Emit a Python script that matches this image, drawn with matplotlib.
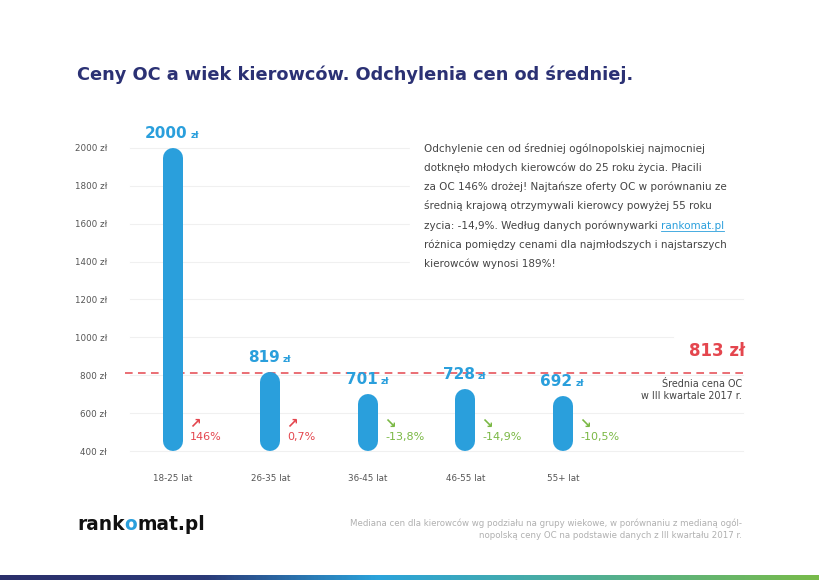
import matplotlib.pyplot as plt
import numpy as np
from matplotlib.lines import Line2D
from matplotlib.patches import Rectangle
from matplotlib.colors import LinearSegmentedColormap

# dane
grupy = ["18-25 lat", "26-35 lat", "36-45 lat", "46-55 lat", "55+ lat"]
ceny = [2000, 819, 701, 728, 692]
odchylenia = ["146%", "0,7%", "-13,8%", "-14,9%", "-10,5%"]
kierunek = ["up", "up", "down", "down", "down"]
srednia = 813
yticks = [400, 600, 800, 1000, 1200, 1400, 1600, 1800, 2000]

NIEBIESKI = "#2a9fdc"
CZERWONY = "#e4464e"
ZIELONY = "#7ab844"
GRANAT = "#2b3174"
SZARY = "#555555"

plt.rcParams['font.family'] = ['DejaVu Sans']

fig = plt.figure(figsize=(8.2, 5.8), dpi=100)
ax = fig.add_axes([125 / 820, 110 / 580, 620 / 820, 360 / 580])
ax.set_xlim(-0.492, 5.867)
ax.set_ylim(300, 2200)
for s in ax.spines.values():
    s.set_visible(False)

# siatka (linia 1000 krotsza, zeby nie wchodzila na "813 zl")
for t in yticks:
    koniec = 673 if t == 1000 else 743
    ax.plot([-0.44, (koniec - 173) / 97.5], [t, t], color="#f0f0f0", lw=0.8, zorder=0)

ax.set_yticks(yticks)
ax.set_yticklabels([f"{t} zł" for t in yticks], fontsize=6.3, color=SZARY)
ax.tick_params(axis='y', length=0, pad=13)
x = np.arange(len(grupy))
ax.set_xticks(x)
ax.set_xticklabels(grupy, fontsize=6.3, color=SZARY)
ax.tick_params(axis='x', length=0, pad=3)

# zaokraglone slupki
r = 10 / (360 / 1900)  # promien w jednostkach danych
for i, v in enumerate(ceny):
    ax.plot([i, i], [400 + r, v - r], color=NIEBIESKI, lw=14.4,
            solid_capstyle='round', zorder=3)
    nd = len(str(v))
    w = nd * 10.3 + 3 + 9
    ax.annotate(str(v), (i, v), xytext=(w / 2 - 12, 10), textcoords='offset pixels',
                ha='right', va='baseline', fontsize=11, fontweight='bold', color=NIEBIESKI)
    ax.annotate("zł", (i, v), xytext=(w / 2 - 9, 10), textcoords='offset pixels',
                ha='left', va='baseline', fontsize=6.5, fontweight='bold', color=NIEBIESKI)
    kol = CZERWONY if kierunek[i] == "up" else ZIELONY
    strz = "↗" if kierunek[i] == "up" else "↘"
    ax.annotate(strz, (i, 542), xytext=(16, 0), textcoords='offset pixels',
                ha='left', va='center', fontsize=10, fontweight='bold', color=kol)
    ax.annotate(odchylenia[i], (i, 474), xytext=(17, 0), textcoords='offset pixels',
                ha='left', va='center', fontsize=8, color=kol)

# srednia
ax.axhline(srednia, color=CZERWONY, lw=1.1, ls=(0, (5, 3.5)), zorder=2)
fig.text(745 / 820, 1 - 351 / 580, "813 zł", ha='right', va='center',
         fontsize=12, fontweight='bold', color=CZERWONY)
fig.text(742 / 820, 1 - 390 / 580, "Średnia cena OC\nw III kwartale 2017 r.", ha='right',
         va='center', fontsize=6.9, color="#444444", linespacing=1.2)

# tytul
fig.text(77 / 820, 1 - 75 / 580, "Ceny OC a wiek kierowców. Odchylenia cen od średniej.",
         ha='left', va='center', fontsize=12.8, fontweight='bold', color=GRANAT)

# akapit
fig.patches.append(Rectangle((410 / 820, 1 - 280 / 580), 340 / 820, 150 / 580,
                             transform=fig.transFigure, color="white", zorder=1))
linie = [
    "Odchylenie cen od średniej ogólnopolskiej najmocniej",
    "dotknęło młodych kierowców do 25 roku życia. Płacili",
    "za OC 146% drożej! Najtańsze oferty OC w porównaniu ze",
    "średnią krajową otrzymywali kierowcy powyżej 55 roku",
    "zycia: -14,9%. Według danych porównywarki ",
    "różnica pomiędzy cenami dla najmłodszych i najstarszych",
    "kierowców wynosi 189%!",
]
ys = [148, 168, 187, 206, 226, 245, 264]
teksty = []
for tekst, yy in zip(linie, ys):
    teksty.append(fig.text(424 / 820, 1 - yy / 580, tekst, ha='left', va='center',
                           fontsize=7.5, color="#444444", zorder=2))
link = fig.text(0, 0, "rankomat.pl", fontsize=7.5, color=NIEBIESKI, zorder=2)

# logo w stopce
logo1 = fig.text(77 / 820, 1 - 525 / 580, "rank", ha='left', va='center',
                 fontsize=13.4, fontweight='bold', color="#111111")
logo2 = fig.text(0, 0, "o", fontsize=13.4, fontweight='bold', color=NIEBIESKI)
logo3 = fig.text(0, 0, "mat.pl", fontsize=13.4, fontweight='bold', color="#111111")

fig.text(742 / 820, 1 - 529 / 580,
         "Mediana cen dla kierowców wg podziału na grupy wiekowe, w porównaniu z medianą ogól-\n"
         "nopolską ceny OC na podstawie danych z III kwartału 2017 r.",
         ha='right', va='center', fontsize=6.2, color="#b0b0b0", linespacing=1.4)

# pozycjonowanie tekstow jeden po drugim
fig.canvas.draw()
rend = fig.canvas.get_renderer()
inv = fig.transFigure.inverted()


def obok(prev, nxt):
    bb = prev.get_window_extent(rend)
    x0, _ = inv.transform((bb.x1, 0))
    nxt.set_position((x0, prev.get_position()[1]))
    nxt.set_va(prev.get_va())
    nxt.set_ha('left')


obok(teksty[4], link)
obok(logo1, logo2)
obok(logo2, logo3)
fig.canvas.draw()
bb = link.get_window_extent(rend)
fig.add_artist(Line2D([bb.x0, bb.x1], [bb.y0 + 0.5, bb.y0 + 0.5], transform=None,
                      color=NIEBIESKI, lw=0.6))

# pasek gradientu na dole
gax = fig.add_axes([0, 0, 1, 5 / 580])
cmap = LinearSegmentedColormap.from_list("pasek", [(0, "#2b2f6b"), (0.25, "#2b3a78"),
                                                   (0.46, "#2aa3db"), (1, "#78bb4a")])
gax.imshow(np.linspace(0, 1, 400)[None, :], aspect='auto', cmap=cmap)
gax.axis('off')

fig.savefig("out.png", dpi=100)
